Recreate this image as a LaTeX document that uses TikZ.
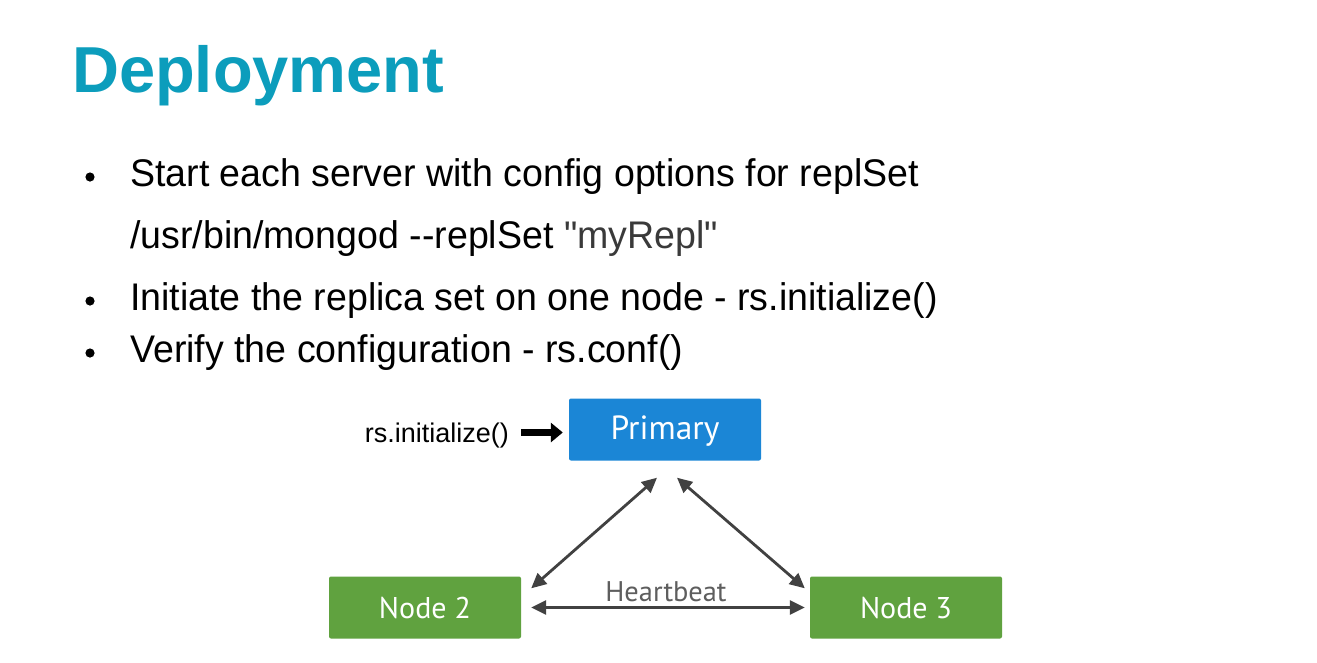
\documentclass[tikz,border=0pt]{standalone}
\usepackage{fontspec}
\setmainfont{Liberation Sans}
\newfontfamily\bodyfont{Liberation Sans}[FakeStretch=0.975]
\newfontfamily\boxfont{PT Sans}
\usetikzlibrary{arrows.meta,calc}
\definecolor{titleteal}{HTML}{0C9DBC}
\definecolor{primaryblue}{HTML}{1B86D6}
\definecolor{nodegreen}{HTML}{60A23F}
\definecolor{linkgray}{HTML}{414141}
\definecolor{quotegray}{HTML}{3A3A3A}
\tikzset{
  bodytext/.style={anchor=base west, inner sep=0pt, font=\bodyfont\fontsize{38.5}{44}\selectfont},
  bulletdot/.style={fill=black},
  server/.style={rectangle, rounded corners=2pt, minimum width=192pt, minimum height=62pt,
    inner sep=0pt, text=white, text depth=3pt},
  primarybox/.style={server, fill=primaryblue, text height=22pt,
    font=\boxfont\fontsize{33.5}{38}\selectfont},
  secondarybox/.style={server, fill=nodegreen, text height=24pt,
    font=\boxfont\fontsize{30}{36}\selectfont},
  link/.style={draw=linkgray, line width=2.8pt, {Triangle[length=15pt,width=14pt]}-{Triangle[length=15pt,width=14pt]}},
  initarrow/.style={draw=black, line width=7pt, -{Triangle[length=12pt,width=19pt]}}
}
\begin{document}
\begin{tikzpicture}[x=1pt,y=-1pt]
  \useasboundingbox[fill=white] (0,0) rectangle (1317,662);

  % heading
  \node[anchor=base west, inner sep=0pt, text=titleteal,
        font=\fontsize{65}{70}\selectfont\bfseries] (title) at (72,92) {Deployment};

  % bullet list
  \fill[bulletdot] (90,177) circle (4.6pt);
  \node[bodytext] (b1) at (130,186) {Start each server with config options for replSet};
  \node[bodytext] (b1cmd) at (130,248) {/usr/bin/mongod -{}-replSet \textcolor{quotegray}{\symbol{34}myRepl\symbol{34}}};
  \fill[bulletdot] (90,301) circle (4.6pt);
  \node[bodytext] (b2) at (130,310) {Initiate the replica set on one node - rs.initialize()};
  \fill[bulletdot] (90,353) circle (4.6pt);
  \node[bodytext] (b3) at (130,362) {Verify the configuration - rs.conf()};

  % replica set
  \node[primarybox] (primary) at (665,429.5) {Primary};
  \node[secondarybox] (node2) at (425,607.5) {Node 2};
  \node[secondarybox] (node3) at (906,607.5) {Node 3};

  \node[anchor=base east, inner sep=0pt, font=\fontsize{27}{30}\selectfont] (init) at (509,442) {rs.initialize()};
  \coordinate (initstart) at ($(init.base east)+(12,-9.5)$);
  \coordinate (initend) at (initstart -| {$(primary.west)+(-6,0)$});
  \draw[initarrow] (initstart) -- (initend);

  % heartbeat links
  \coordinate (pl) at ($(primary.south)+(-8,17)$);
  \coordinate (pr) at ($(primary.south)+(12,17)$);
  \coordinate (n2t) at ($(node2.north east)+(10,12)$);
  \coordinate (n2r) at ($(node2.east)+(10,0)$);
  \coordinate (n3t) at ($(node3.north west)+(-5,12)$);
  \coordinate (n3l) at ($(node3.west)+(-5,0)$);
  \draw[link] (pl) -- (n2t);
  \draw[link] (pr) -- (n3t);
  \draw[link] (n2r) -- (n3l);
  \node[anchor=base, inner sep=0pt, text=linkgray!85!white, font=\boxfont\fontsize{28.4}{32}\selectfont] (hb) at (666,601) {Heartbeat};
\end{tikzpicture}
\end{document}
